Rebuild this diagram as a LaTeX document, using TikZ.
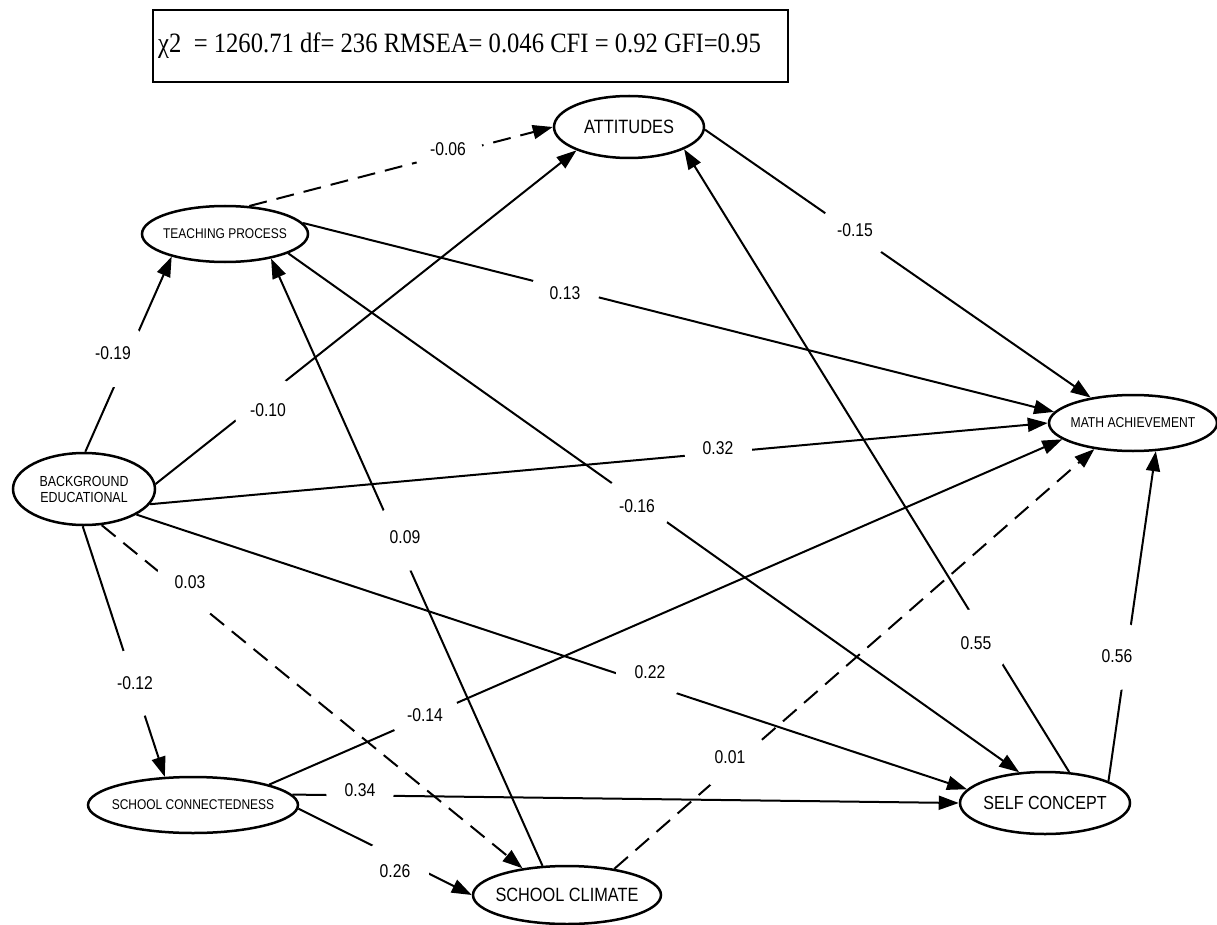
\documentclass[tikz,border=0pt]{standalone}
\usepackage{fontspec}
\setmainfont{Liberation Sans}
\newfontfamily\nar[FakeStretch=0.85]{Liberation Sans}
\newfontfamily\tms[FakeStretch=0.88]{Liberation Serif}
\usetikzlibrary{arrows.meta,shapes.geometric}
\begin{document}
\begin{tikzpicture}[x=1pt,y=-1pt,
  ell/.style={ellipse, draw, line width=2.5pt, inner sep=0pt, fill=white},
  txt/.style={inner sep=0pt, align=center},
  edge/.style={line width=2pt, -{Triangle[length=20pt,width=14pt]}},
  dsh/.style={edge, dash pattern=on 18pt off 10pt},
  lab/.style={circle, fill=white, minimum size=68pt, inner sep=0pt, font=\nar\fontsize{18.5}{20}\selectfont}]
\useasboundingbox (0,0) rectangle (1217,925);
% title
\node[draw, line width=1.5pt, minimum width=635pt, minimum height=72pt, inner sep=0pt] (box) at (470.5,46) {};
\node[anchor=base west, inner sep=0pt, font=\tms\fontsize{28}{30}\selectfont] (title) at (158,53) {χ2\ \ = 1260.71 df= 236 RMSEA= 0.046 CFI = 0.92 GFI=0.95};
% latent variables
\node[ell, minimum width=150pt, minimum height=62pt] (att) at (629,127) {};
\node[txt, font=\nar\fontsize{19.3}{21}\selectfont] (attt) at (att) {ATTITUDES};
\node[ell, minimum width=166pt, minimum height=56pt] (tp) at (225,234) {};
\node[txt, font=\nar\fontsize{14.1}{16}\selectfont] (tpt) at (tp) {TEACHING PROCESS};
\node[ell, minimum width=142pt, minimum height=72pt] (be) at (84,489) {};
\node[txt, font=\nar\fontsize{14.6}{16}\selectfont] (bet) at (be) {BACKGROUND\\EDUCATIONAL};
\node[ell, minimum width=168pt, minimum height=56pt] (ma) at (1133,423) {};
\node[txt, font=\nar\fontsize{14.3}{16}\selectfont] (mat) at (ma) {MATH ACHIEVEMENT};
\node[ell, minimum width=170pt, minimum height=62pt] (sc) at (1045,803) {};
\node[txt, font=\nar\fontsize{18.9}{21}\selectfont] (sct) at (sc) {SELF CONCEPT};
\node[ell, minimum width=210pt, minimum height=56pt] (scn) at (193,805) {};
\node[txt, font=\nar\fontsize{14.1}{16}\selectfont] (scnt) at (scn) {SCHOOL CONNECTEDNESS};
\node[ell, minimum width=188pt, minimum height=58pt] (scl) at (567,895) {};
\node[txt, font=\nar\fontsize{19.2}{21}\selectfont] (sclt) at (scl) {SCHOOL CLIMATE};
% paths
\draw[edge] (be.88) -- (tp.203);
\draw[edge] (be.4) -- (att.204);
\draw[edge] (be.347) -- (ma.180);
\draw[edge] (be.334) -- (sc.170);
\draw[dsh] (be.296) -- (scl.149);
\draw[edge] (be.268) -- (scn.135);
\draw[dsh] (tp.49) -- (att.180);
\draw[edge] (tp.8) -- (ma.172);
\draw[edge] (tp.343) -- (sc.130);
\draw[edge] (scl.130) -- (tp.332);
\draw[edge] (scn.15) -- (ma.193);
\draw[edge] (scn.6) -- (sc.180);
\draw[edge] (scn.358) -- (scl.180);
\draw[dsh] (scl.29) -- (ma.214);
\draw[edge] (sc.52) -- (att.338);
\draw[edge] (sc.19) -- (ma.309);
\draw[edge] (att.358) -- (ma.149);
% coefficients
\node[lab] (l1) at (113,353) {-0.19};
\node[lab] (l2) at (268,410) {-0.10};
\node[lab] (l3) at (718,448) {0.32};
\node[lab] (l4) at (650,672) {0.22};
\node[lab] (l5) at (190,582) {0.03};
\node[lab] (l6) at (135,683) {-0.12};
\node[lab] (l7) at (448,149) {-0.06};
\node[lab] (l8) at (565,293) {0.13};
\node[lab] (l9) at (637,506) {-0.16};
\node[lab] (l10) at (405,537) {0.09};
\node[lab] (l11) at (425,715) {-0.14};
\node[lab] (l12) at (360,790) {0.34};
\node[lab] (l13) at (395,871) {0.26};
\node[lab] (l14) at (730,757) {0.01};
\node[lab] (l15) at (976,643) {0.55};
\node[lab] (l16) at (1117,656) {0.56};
\node[lab] (l17) at (855,230) {-0.15};
\end{tikzpicture}
\end{document}
